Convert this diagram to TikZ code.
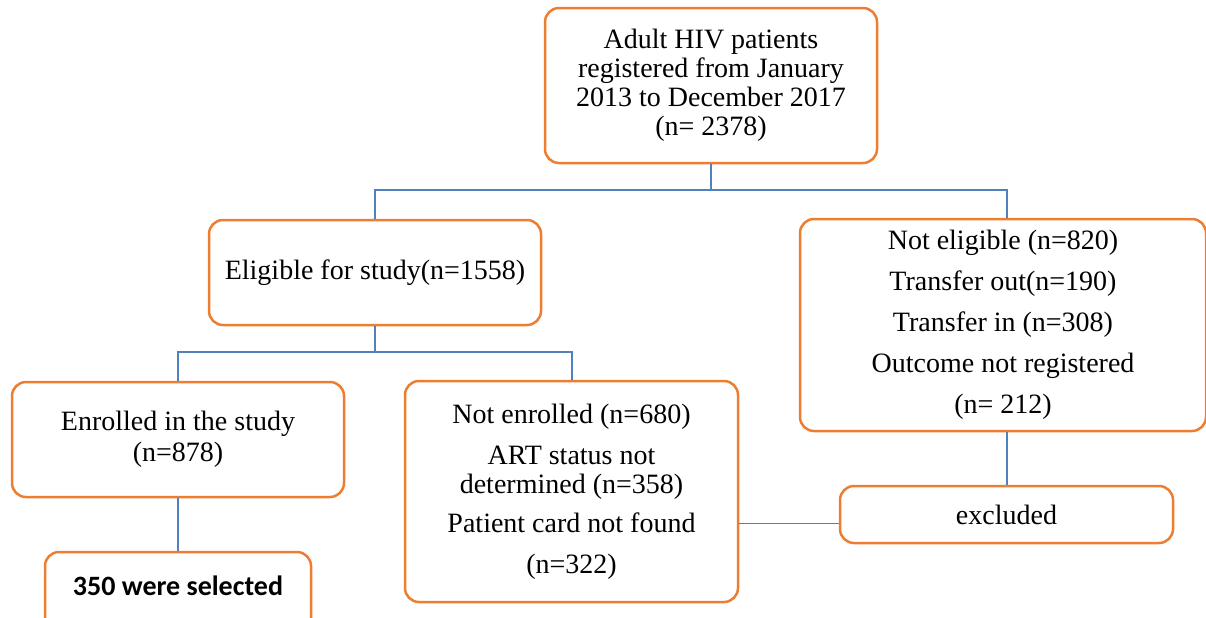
\documentclass[tikz,border=0pt]{standalone}
\usepackage{fontspec}
\setmainfont{Liberation Serif}
\newfontfamily\calibrifont{Carlito}
\usetikzlibrary{positioning}
\definecolor{boxorange}{HTML}{ED7D31}
\definecolor{linkblue}{HTML}{4F81BD}

\begin{document}
\begin{tikzpicture}[
        x=0.5pt, y=-0.5pt,
        flowbox/.style={
                draw=boxorange,
                line width=1.25pt,
                rounded corners=7pt,
                fill=white,
                align=center,
                inner sep=0pt,
                font=\fontsize{14}{14.5}\selectfont
            },
        link/.style={
                draw=linkblue,
                line width=1pt
            }
    ]
    \useasboundingbox (0, 0) rectangle (1206, 617);
    \clip (0, 0) rectangle (1206, 617);

    % boxes
    \node [flowbox, minimum width=166pt, minimum height=77.5pt] (registered) at (711, 85.5)
        {Adult HIV patients\\registered from January\\2013 to December 2017\\(n= 2378)};
    \node [flowbox, minimum width=166pt, minimum height=52.5pt] (eligible) at (375, 272.5)
        {Eligible for study(n=1558)};
    \node [flowbox, minimum width=203pt, minimum height=106pt] (noteligible) at (1003, 325)
        {Not eligible (n=820)\\[6pt]Transfer out(n=190)\\[6pt]Transfer in (n=308)\\[6pt]Outcome not registered\\[6pt](n= 212)};
    \node [flowbox, minimum width=166pt, minimum height=57.5pt] (enrolled) at (178, 439.5)
        {Enrolled in the study\\[1pt](n=878)};
    \node [flowbox, minimum width=166.5pt, minimum height=110.5pt] (notenrolled) at (571.5, 491.5)
        {Not enrolled (n=680)\\[6pt]ART status not\\determined (n=358)\\[5pt]Patient card not found\\[6pt](n=322)};
    \node [flowbox, minimum width=166.5pt, minimum height=28.5pt] (excluded) at (1006.5, 514.5)
        {excluded};
    \node [flowbox, minimum width=133pt, minimum height=40pt] (selected) at (178, 592)
        {};
    \node [font=\calibrifont\bfseries\fontsize{14}{16}\selectfont] (selectedtext) at (178, 586) {350 were selected};

    % connectors
    \coordinate (split1) at (711, 190);
    \coordinate (split2) at (375, 352);
    \coordinate (crossy) at (0, 523);
    \draw [link] (registered.south) -- (split1);
    \draw [link] (eligible.north) |- (split1) -| (excluded.north |- noteligible.north);
    \draw [link] (eligible.south) -- (split2);
    \draw [link] (enrolled.north) |- (split2) -| (notenrolled.north);
    \draw [link] (enrolled.south) -- (selected.north);
    \draw [link] (excluded.north |- noteligible.south) -- (excluded.north);
    \draw [link, line width=0.5pt] (notenrolled.east |- crossy) -- (excluded.west |- crossy);
\end{tikzpicture}
\end{document}
